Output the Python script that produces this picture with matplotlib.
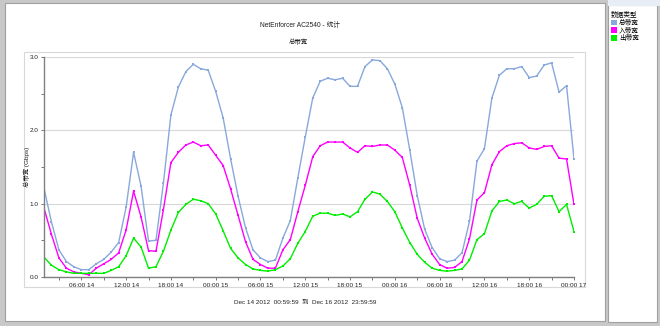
import pandas as pd
import matplotlib
matplotlib.use('Agg')
import matplotlib.pyplot as plt
import matplotlib.dates as mdates
from matplotlib.patches import Rectangle, Patch

plt.rcParams['font.family'] = ['Liberation Sans', 'Noto Sans CJK SC', 'DejaVu Sans']

# 每小时一个点: 2012-12-14 01:00 到 2012-12-17 00:00
hours = pd.date_range('2012-12-14 01:00', periods=72, freq='h')

total_bw = [1.21, 0.75, 0.37, 0.21, 0.14, 0.10, 0.10, 0.18, 0.24, 0.34, 0.47, 0.95,
            1.70, 1.24, 0.49, 0.50, 1.28, 2.21, 2.59, 2.80, 2.90, 2.84, 2.82, 2.53,
            2.17, 1.61, 1.10, 0.67, 0.37, 0.26, 0.21, 0.23, 0.53, 0.77, 1.35, 1.91,
            2.44, 2.67, 2.71, 2.69, 2.71, 2.60, 2.60, 2.87, 2.96, 2.95, 2.84, 2.63,
            2.31, 1.73, 1.11, 0.65, 0.40, 0.25, 0.21, 0.23, 0.33, 0.76, 1.58, 1.75,
            2.44, 2.75, 2.84, 2.84, 2.87, 2.72, 2.74, 2.89, 2.92, 2.52, 2.61, 1.61]
in_bw = [0.94, 0.58, 0.26, 0.12, 0.07, 0.05, 0.03, 0.12, 0.18, 0.24, 0.33, 0.64,
         1.17, 0.82, 0.36, 0.35, 0.92, 1.56, 1.70, 1.80, 1.84, 1.79, 1.80, 1.66,
         1.52, 1.20, 0.84, 0.48, 0.24, 0.17, 0.12, 0.12, 0.37, 0.51, 0.89, 1.25,
         1.64, 1.79, 1.84, 1.84, 1.84, 1.76, 1.70, 1.79, 1.78, 1.80, 1.80, 1.73,
         1.63, 1.25, 0.80, 0.53, 0.31, 0.17, 0.12, 0.13, 0.21, 0.52, 1.05, 1.15,
         1.53, 1.71, 1.79, 1.82, 1.83, 1.76, 1.74, 1.78, 1.79, 1.62, 1.61, 0.99]
out_bw = [0.27, 0.16, 0.10, 0.07, 0.05, 0.05, 0.05, 0.05, 0.05, 0.09, 0.14, 0.29,
          0.53, 0.41, 0.12, 0.14, 0.35, 0.64, 0.88, 0.99, 1.06, 1.04, 1.00, 0.86,
          0.63, 0.39, 0.26, 0.17, 0.11, 0.09, 0.08, 0.10, 0.15, 0.25, 0.46, 0.62,
          0.83, 0.87, 0.87, 0.84, 0.86, 0.82, 0.89, 1.06, 1.16, 1.13, 1.03, 0.89,
          0.67, 0.47, 0.31, 0.20, 0.12, 0.09, 0.08, 0.09, 0.11, 0.23, 0.51, 0.59,
          0.90, 1.03, 1.05, 1.00, 1.03, 0.94, 0.99, 1.10, 1.11, 0.89, 0.99, 0.62]

series_names = ['总带宽', '入带宽', '出带宽']
series_colors = ['#88a8dc', '#ff00ff', '#00ee00']

fig = plt.figure(figsize=(6.6, 3.26), dpi=100)
fig.patch.set_facecolor('#c8c8c8')

W, H = 660.0, 326.0


def px_rect(x0, y0, x1, y1, **kw):
    # 像素坐标(左上为原点)转成 figure 坐标画矩形
    r = Rectangle((x0 / W, 1 - y1 / H), (x1 - x0) / W, (y1 - y0) / H,
                  transform=fig.transFigure, zorder=-1, **kw)
    fig.patches.append(r)


# 窗口面板
px_rect(5, 3, 605, 321, facecolor='white', edgecolor='#a0a0a0', lw=0.8)
px_rect(608, 5, 657, 322, facecolor='white', edgecolor='#a0a0a0', lw=0.8)
px_rect(608, 0, 660, 6, facecolor='#e8eef6', edgecolor='none')
# 图表外框
px_rect(24, 52, 585, 287, facecolor='white', edgecolor='#d8d8d8', lw=0.8)

ax = fig.add_axes([44 / W, 1 - 277 / H, (574 - 44) / W, (277 - 57) / H])
ax.set_zorder(5)
ax.set_facecolor('white')

for vals, c in zip([total_bw, in_bw, out_bw], series_colors):
    ax.plot(hours, vals, color=c, lw=1.0, marker='s', ms=1.8, mew=0)

ax.set_ylim(0, 3.0)
ax.set_xlim(hours[0], hours[-1])
ax.set_yticks([0, 1.0, 2.0, 3.0])
ax.set_yticks([0.5, 1.5, 2.5], minor=True)
ax.yaxis.set_major_formatter(matplotlib.ticker.FormatStrFormatter('%.1f'))
ax.xaxis.set_major_locator(mdates.HourLocator(byhour=[0, 6, 12, 18]))
ax.xaxis.set_minor_locator(mdates.HourLocator(byhour=[3, 9, 15, 21]))
ax.xaxis.set_major_formatter(mdates.DateFormatter('%H:%M %d'))
ax.grid(axis='y', which='major', color='#d8d8d8', lw=0.8)
ax.set_axisbelow(True)

for side in ['top', 'right']:
    ax.spines[side].set_visible(False)
for side in ['left', 'bottom']:
    ax.spines[side].set_color('#808080')
    ax.spines[side].set_linewidth(1.0)
ax.tick_params(which='both', length=2, width=0.6, color='#606060',
               labelsize=4.6, labelcolor='#222222', pad=2)

ax.set_ylabel('总带宽 (Gbps)', fontsize=4.6, color='#222222')
ax.yaxis.set_label_coords(-0.026, 0.5)

fig.text(300 / W, 1 - 25 / H, 'NetEnforcer AC2540 - 统计', ha='center', va='center',
         fontsize=4.8, color='#222222')
fig.text(298 / W, 1 - 42 / H, '总带宽', ha='center', va='center',
         fontsize=4.6, color='#222222')
fig.text(305 / W, 1 - 302 / H, 'Dec 14 2012  00:59:59  到  Dec 16 2012  23:59:59',
         ha='center', va='center', fontsize=4.6, color='#222222')

handles = [Patch(facecolor=c, edgecolor='none') for c in series_colors]
leg = fig.legend(handles, series_names, title='数据类型', loc='upper left',
                 bbox_to_anchor=(609 / W, 1 - 10 / H), frameon=False,
                 fontsize=4.8, title_fontsize=4.8, handlelength=0.9,
                 handleheight=0.9, handletextpad=0.3, labelspacing=0.1,
                 borderpad=0.1, borderaxespad=0.2, alignment='left')

plt.savefig('out.png', dpi=100)
plt.close()
